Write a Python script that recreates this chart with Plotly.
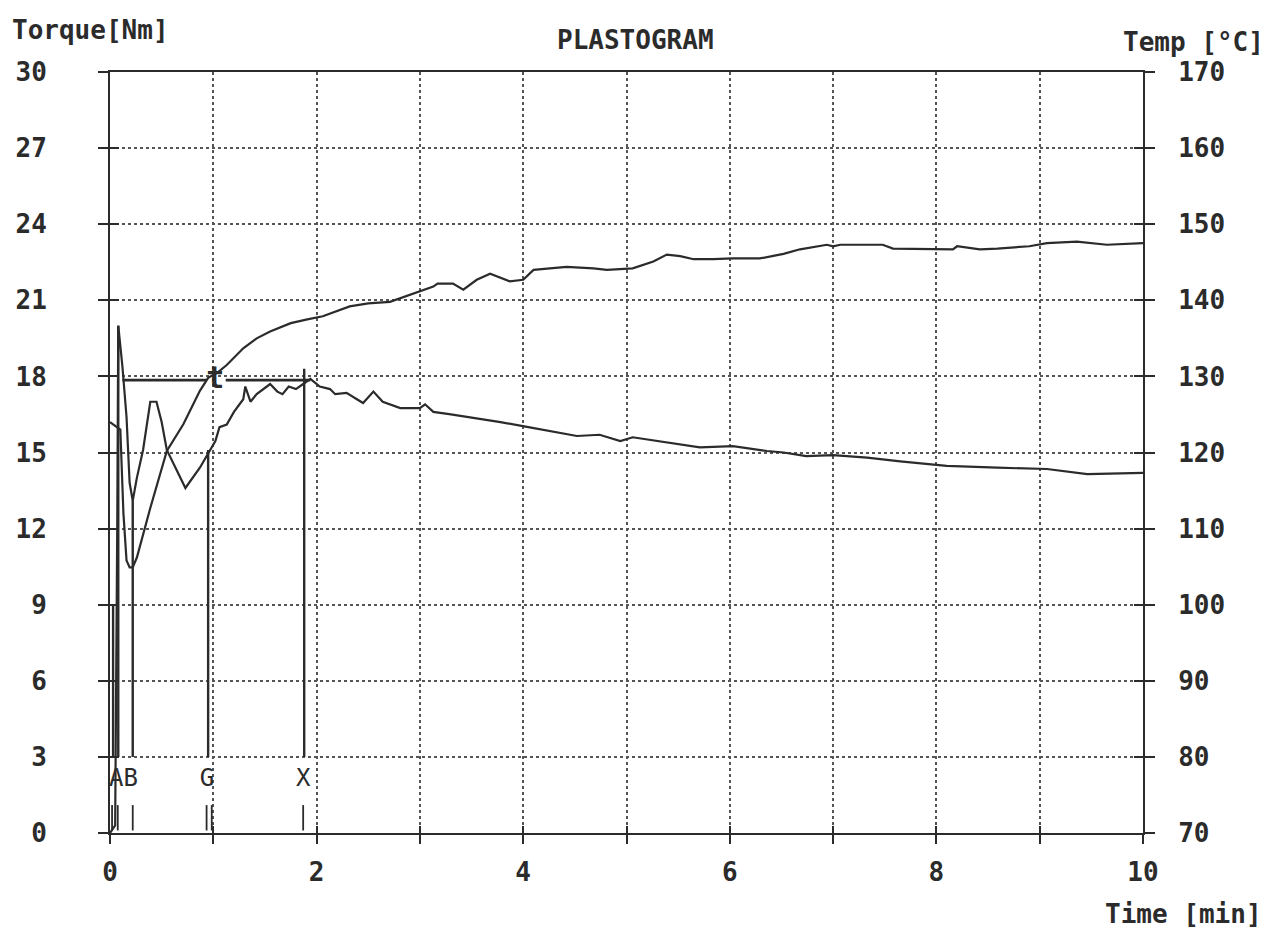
import plotly.graph_objects as go

# ---------------- data ----------------
torque_time = [0.0, 0.05, 0.07, 0.08, 0.10, 0.12, 0.16, 0.19, 0.22, 0.26, 0.32, 0.39, 0.45,
               0.50, 0.55, 0.65, 0.73, 0.87, 0.97, 1.02, 1.06, 1.13, 1.20, 1.29, 1.31, 1.36,
               1.42, 1.48, 1.55, 1.62, 1.67, 1.73, 1.80, 1.87, 1.94, 2.03, 2.13, 2.18, 2.29,
               2.39, 2.45, 2.55, 2.64, 2.81, 3.00, 3.05, 3.13, 3.30, 3.46, 3.61, 3.78, 4.05,
               4.26, 4.52, 4.74, 4.94, 5.06, 5.39, 5.71, 6.03, 6.36, 6.52, 6.74, 7.00, 7.33,
               7.65, 8.10, 8.59, 9.07, 9.46, 10.0]
torque_nm = [0.0, 0.3, 12.0, 20.0, 19.2, 18.4, 16.4, 13.8, 13.1, 14.0, 15.1, 17.0, 17.0,
             16.2, 15.1, 14.3, 13.6, 14.4, 15.1, 15.45, 16.0, 16.1, 16.6, 17.1, 17.6, 17.0,
             17.3, 17.5, 17.7, 17.4, 17.3, 17.6, 17.5, 17.7, 17.9, 17.6, 17.5, 17.3, 17.35,
             17.1, 16.95, 17.4, 17.0, 16.75, 16.75, 16.9, 16.6, 16.5, 16.4, 16.3, 16.2, 16.0,
             15.85, 15.65, 15.7, 15.45, 15.6, 15.4, 15.2, 15.25, 15.06, 15.0, 14.86, 14.9, 14.8,
             14.65, 14.47, 14.4, 14.35, 14.15, 14.2]

temp_time = [0.0, 0.10, 0.13, 0.16, 0.19, 0.22, 0.26, 0.39, 0.55, 0.71, 0.87, 0.95, 1.05,
             1.13, 1.29, 1.42, 1.55, 1.75, 1.91, 2.06, 2.32, 2.50, 2.71, 2.85, 3.03, 3.13,
             3.17, 3.32, 3.42, 3.55, 3.68, 3.87, 4.00, 4.10, 4.42, 4.68, 4.81, 5.06, 5.26,
             5.39, 5.52, 5.65, 5.84, 6.03, 6.29, 6.52, 6.68, 6.84, 6.94, 7.00, 7.07, 7.48,
             7.58, 8.16, 8.20, 8.42, 8.59, 8.90, 9.07, 9.36, 9.65, 10.0]
temp_c = [124.0, 123.0, 112.0, 105.8, 104.9, 104.9, 106.2, 112.7, 120.2, 123.7, 128.1, 129.8, 130.6,
          131.5, 133.7, 135.0, 135.9, 137.0, 137.5, 137.9, 139.2, 139.6, 139.8, 140.5, 141.4, 141.8,
          142.2, 142.2, 141.4, 142.7, 143.5, 142.5, 142.7, 144.0, 144.4, 144.2, 144.0, 144.2, 145.1,
          146.0, 145.8, 145.4, 145.4, 145.5, 145.5, 146.1, 146.7, 147.1, 147.3, 147.1, 147.3, 147.3,
          146.8, 146.7, 147.1, 146.7, 146.8, 147.1, 147.5, 147.7, 147.3, 147.5]

# evaluation point markers (A, B, G, X)
marker_line_time = [0.03, 0.08, 0.22, 0.95, 1.88]
marker_line_top = [9.0, 20.0, 13.1, 15.1, 18.3]
marker_line_base = 3.0
stub_time = [0.02, 0.075, 0.22, 0.935, 0.985, 1.87]
stub_range = [0.1, 1.1]
marker_labels = ["AB", "G", "X"]
marker_label_time = [0.13, 0.94, 1.87]
marker_label_torque = 2.1

fusion_level = 17.85
fusion_segments = [(0.12, 0.93), (1.12, 1.94)]
t_label = ("t", 1.02, 17.85)

x_ticks = list(range(0, 11))
x_ticktext = [str(v) if v % 2 == 0 else "" for v in x_ticks]
torque_ticks = list(range(0, 31, 3))
temp_ticks = list(range(70, 171, 10))

assert len(torque_time) == len(torque_nm)
assert len(temp_time) == len(temp_c)

# ---------------- figure ----------------
# page body has an 8px margin, so the figure is drawn 8px smaller and all
# reference pixel positions are shifted by that offset
OFF = 8
W, H = 1271 - OFF, 932 - OFF
L, R, T, B = 110 - OFF, 1143 - OFF, 72 - OFF, 833 - OFF
INK = "#2b2b2b"
GRID = "#555555"
FONT = "DejaVu Sans Mono"

fig = go.Figure()

fig.add_trace(go.Scatter(x=temp_time, y=temp_c, mode="lines", yaxis="y2",
                         line=dict(color=INK, width=2.2), showlegend=False))
fig.add_trace(go.Scatter(x=torque_time, y=torque_nm, mode="lines",
                         line=dict(color=INK, width=2.2), showlegend=False))

# marker vertical lines
mx, my = [], []
for t, top in zip(marker_line_time, marker_line_top):
    mx += [t, t, None]
    my += [marker_line_base, top, None]
fig.add_trace(go.Scatter(x=mx, y=my, mode="lines", line=dict(color=INK, width=2.4),
                         showlegend=False))
sx, sy = [], []
for t in stub_time:
    sx += [t, t, None]
    sy += [stub_range[0], stub_range[1], None]
fig.add_trace(go.Scatter(x=sx, y=sy, mode="lines", line=dict(color=INK, width=1.8),
                         showlegend=False))

# fusion level line
fx, fy = [], []
for a, b in fusion_segments:
    fx += [a, b, None]
    fy += [fusion_level, fusion_level, None]
fig.add_trace(go.Scatter(x=fx, y=fy, mode="lines", line=dict(color=INK, width=2.8),
                         showlegend=False))

# labels on the plot
fig.add_trace(go.Scatter(x=marker_label_time, y=[marker_label_torque] * len(marker_labels),
                         mode="text", text=marker_labels,
                         textfont=dict(family=FONT, size=24, color=INK), showlegend=False))
fig.add_trace(go.Scatter(x=[t_label[1]], y=[t_label[2]], mode="text", text=[t_label[0]],
                         textfont=dict(family=FONT, size=30, color=INK, weight="bold"),
                         showlegend=False))

# invisible traces for overlay tick axes
fig.add_trace(go.Scatter(x=[0], y=[0], xaxis="x2", yaxis="y3", mode="markers",
                         marker=dict(opacity=0), showlegend=False, hoverinfo="skip"))
fig.add_trace(go.Scatter(x=[0], y=[70], xaxis="x2", yaxis="y4", mode="markers",
                         marker=dict(opacity=0), showlegend=False, hoverinfo="skip"))

tickfont = dict(family=FONT, size=26, color=INK, weight="bold")

fig.update_layout(
    width=W, height=H, autosize=False,
    margin=dict(l=L, r=W - R, t=T, b=H - B, autoexpand=False),
    paper_bgcolor="white", plot_bgcolor="white",
    showlegend=False,
    xaxis=dict(range=[0, 10], tickvals=x_ticks, ticktext=x_ticktext, automargin=False,
               showgrid=True, gridcolor=GRID, griddash="dot", gridwidth=1.6,
               showline=True, linecolor=INK, linewidth=2, mirror=True,
               ticks="outside", ticklen=9, tickwidth=2, tickcolor=INK,
               tickfont=tickfont, ticklabelstandoff=6, zeroline=False),
    xaxis2=dict(overlaying="x", matches="x", range=[0, 10], tickvals=x_ticks, automargin=False,
                showticklabels=False, showgrid=False, ticks="inside", ticklen=7,
                tickwidth=2, tickcolor=INK, showline=False, zeroline=False),
    yaxis=dict(range=[0, 30], tickvals=torque_ticks, automargin=False,
               showgrid=True, gridcolor=GRID, griddash="dot", gridwidth=1.6,
               showline=True, linecolor=INK, linewidth=2,
               ticks="outside", ticklen=10, tickwidth=2, tickcolor=INK,
               tickfont=tickfont, ticklabelstandoff=46, zeroline=False),
    yaxis2=dict(range=[70, 170], tickvals=temp_ticks, overlaying="y", side="right",
                automargin=False,
                showgrid=False, showline=True, linecolor=INK, linewidth=2,
                ticks="outside", ticklen=10, tickwidth=2, tickcolor=INK,
                tickfont=tickfont, ticklabelstandoff=18, zeroline=False),
    yaxis3=dict(range=[0, 30], tickvals=torque_ticks, overlaying="y", side="left",
                automargin=False,
                showticklabels=False, showgrid=False, showline=False,
                ticks="inside", ticklen=9, tickwidth=2, tickcolor=INK, zeroline=False),
    yaxis4=dict(range=[70, 170], tickvals=temp_ticks, overlaying="y", side="right",
                automargin=False,
                showticklabels=False, showgrid=False, showline=False,
                ticks="inside", ticklen=9, tickwidth=2, tickcolor=INK, zeroline=False),
)


def px(xp):
    """reference pixel x -> paper fraction"""
    return (xp - OFF - L) / (R - L)


def py(yp):
    """reference pixel y -> paper fraction"""
    return (B - (yp - OFF)) / (B - T)


title_font = dict(family=FONT, size=26, color=INK, weight="bold")
fig.add_annotation(text="Torque[Nm]", xref="paper", yref="paper", x=px(10), y=py(30),
                   xanchor="left", yanchor="middle", showarrow=False, font=title_font)
fig.add_annotation(text="PLASTOGRAM", xref="paper", yref="paper", x=px(635), y=py(40),
                   xanchor="center", yanchor="middle", showarrow=False, font=title_font)
fig.add_annotation(text="Temp [°C]", xref="paper", yref="paper", x=px(1266), y=py(42),
                   xanchor="right", yanchor="middle", showarrow=False, font=title_font)
fig.add_annotation(text="Time [min]", xref="paper", yref="paper", x=px(1264), y=py(914),
                   xanchor="right", yanchor="middle", showarrow=False, font=title_font)

fig.write_html("out.html")
